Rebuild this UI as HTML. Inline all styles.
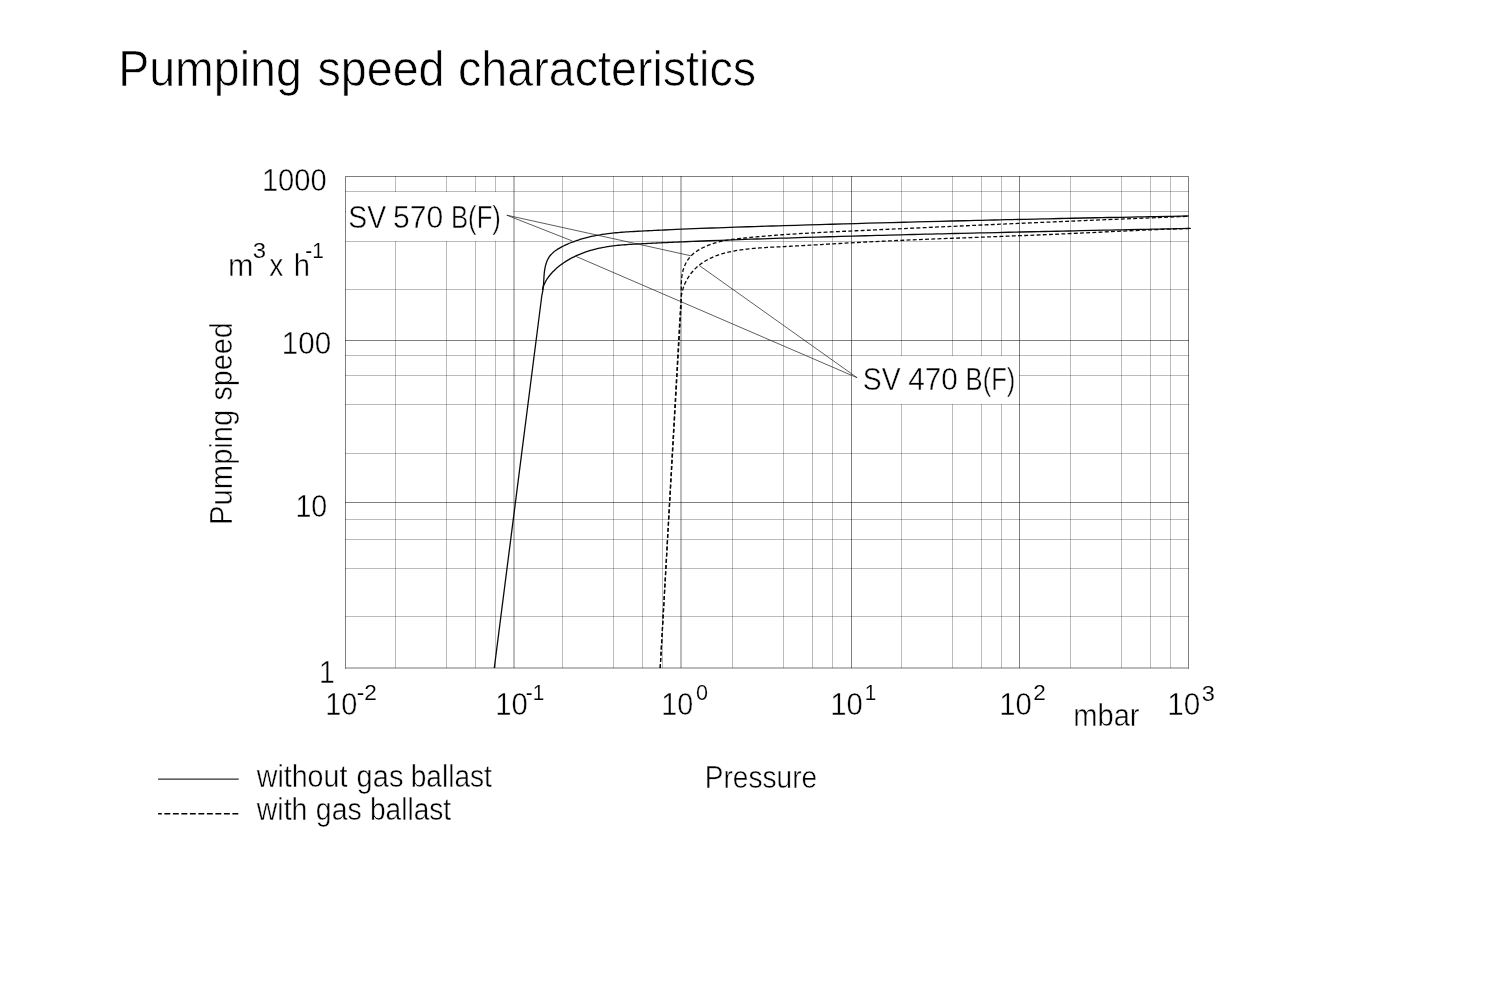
<!DOCTYPE html>
<html lang="en"><head><meta charset="utf-8"><title>Pumping speed characteristics</title>
<style>html,body{margin:0;padding:0;background:#fff}body{width:1500px;height:1000px;overflow:hidden}svg{display:block}text{font-family:"Liberation Sans",Arial,Helvetica,sans-serif;fill:#000;stroke:#fff;stroke-width:0.45px}text.t{stroke-width:0.7px}text.s{stroke-width:0.15px}</style></head><body>
<svg width="1500" height="1000" viewBox="0 0 1500 1000">
<rect width="1500" height="1000" fill="#fff"/>
<g shape-rendering="crispEdges">
<rect x="395" y="176" width="1" height="492" fill="rgba(0,0,0,0.265)"/>
<rect x="446" y="176" width="1" height="492" fill="rgba(0,0,0,0.265)"/>
<rect x="475" y="176" width="1" height="492" fill="rgba(0,0,0,0.265)"/>
<rect x="495" y="176" width="1" height="492" fill="rgba(0,0,0,0.265)"/>
<rect x="562" y="176" width="1" height="492" fill="rgba(0,0,0,0.265)"/>
<rect x="613" y="176" width="1" height="492" fill="rgba(0,0,0,0.265)"/>
<rect x="642" y="176" width="1" height="492" fill="rgba(0,0,0,0.265)"/>
<rect x="662" y="176" width="1" height="492" fill="rgba(0,0,0,0.265)"/>
<rect x="732" y="176" width="1" height="492" fill="rgba(0,0,0,0.265)"/>
<rect x="783" y="176" width="1" height="492" fill="rgba(0,0,0,0.265)"/>
<rect x="812" y="176" width="1" height="492" fill="rgba(0,0,0,0.265)"/>
<rect x="832" y="176" width="1" height="492" fill="rgba(0,0,0,0.265)"/>
<rect x="901" y="176" width="1" height="492" fill="rgba(0,0,0,0.265)"/>
<rect x="952" y="176" width="1" height="492" fill="rgba(0,0,0,0.265)"/>
<rect x="981" y="176" width="1" height="492" fill="rgba(0,0,0,0.265)"/>
<rect x="1001" y="176" width="1" height="492" fill="rgba(0,0,0,0.265)"/>
<rect x="1070" y="176" width="1" height="492" fill="rgba(0,0,0,0.265)"/>
<rect x="1121" y="176" width="1" height="492" fill="rgba(0,0,0,0.265)"/>
<rect x="1150" y="176" width="1" height="492" fill="rgba(0,0,0,0.265)"/>
<rect x="1170" y="176" width="1" height="492" fill="rgba(0,0,0,0.265)"/>
<rect x="513" y="176" width="2" height="492" fill="rgba(0,0,0,0.265)"/>
<rect x="680" y="176" width="2" height="492" fill="rgba(0,0,0,0.265)"/>
<rect x="851" y="176" width="1" height="492" fill="rgba(0,0,0,0.5)"/>
<rect x="1019" y="176" width="1" height="492" fill="rgba(0,0,0,0.5)"/>
<rect x="345" y="191" width="844" height="1" fill="rgba(0,0,0,0.265)"/>
<rect x="345" y="211" width="844" height="1" fill="rgba(0,0,0,0.265)"/>
<rect x="345" y="241" width="844" height="1" fill="rgba(0,0,0,0.265)"/>
<rect x="345" y="289" width="844" height="1" fill="rgba(0,0,0,0.265)"/>
<rect x="345" y="355" width="844" height="1" fill="rgba(0,0,0,0.265)"/>
<rect x="345" y="375" width="844" height="1" fill="rgba(0,0,0,0.265)"/>
<rect x="345" y="404" width="844" height="1" fill="rgba(0,0,0,0.265)"/>
<rect x="345" y="453" width="844" height="1" fill="rgba(0,0,0,0.265)"/>
<rect x="345" y="519" width="844" height="1" fill="rgba(0,0,0,0.265)"/>
<rect x="345" y="539" width="844" height="1" fill="rgba(0,0,0,0.265)"/>
<rect x="345" y="568" width="844" height="1" fill="rgba(0,0,0,0.265)"/>
<rect x="345" y="616" width="844" height="1" fill="rgba(0,0,0,0.265)"/>
<rect x="345" y="340" width="844" height="1" fill="rgba(0,0,0,0.5)"/>
<rect x="345" y="502" width="844" height="1" fill="rgba(0,0,0,0.5)"/>
<rect x="345" y="176" width="844" height="1" fill="rgba(0,0,0,0.5)"/>
<rect x="345" y="177" width="1" height="492" fill="rgba(0,0,0,0.5)"/>
<rect x="1188" y="177" width="1" height="492" fill="rgba(0,0,0,0.5)"/>
<rect x="346" y="667" width="842" height="2" fill="rgba(0,0,0,0.265)"/>
<rect x="346" y="192" width="167" height="49" fill="#fff"/>
<rect x="852" y="356" width="167" height="48" fill="#fff"/>
</g>
<g fill="none" stroke="#0a0a0a" stroke-width="1.3" stroke-linejoin="round">
<path d="M494.30,668.00 L541.90,295.00 C541.97,294.68 542.20,293.70 542.34,293.06 C542.48,292.42 542.61,291.79 542.73,291.14 C542.84,290.50 542.94,289.85 543.03,289.20 C543.12,288.55 543.20,287.89 543.27,287.23 C543.34,286.57 543.39,285.90 543.45,285.24 C543.50,284.57 543.55,283.90 543.59,283.23 C543.64,282.56 543.68,281.88 543.72,281.21 C543.76,280.53 543.79,279.85 543.83,279.18 C543.87,278.50 543.91,277.82 543.95,277.14 C544.00,276.46 544.04,275.78 544.10,275.11 C544.15,274.43 544.21,273.75 544.28,273.07 C544.35,272.40 544.42,271.72 544.51,271.05 C544.60,270.38 544.70,269.71 544.81,269.04 C544.93,268.37 545.05,267.70 545.19,267.05 C545.33,266.39 545.49,265.73 545.66,265.08 C545.84,264.44 546.02,263.80 546.23,263.17 C546.44,262.54 546.66,261.92 546.91,261.31 C547.16,260.71 547.42,260.11 547.71,259.53 C548.00,258.95 548.30,258.38 548.64,257.83 C548.97,257.28 549.32,256.74 549.70,256.23 C550.08,255.71 550.49,255.22 550.91,254.74 C551.34,254.26 551.79,253.80 552.25,253.35 C552.72,252.90 553.21,252.47 553.71,252.06 C554.22,251.64 554.74,251.24 555.27,250.85 C555.81,250.46 556.36,250.08 556.91,249.72 C557.47,249.35 558.04,249.00 558.62,248.65 C559.20,248.31 559.79,247.97 560.38,247.65 C560.97,247.32 561.58,247.00 562.18,246.69 C562.78,246.38 563.38,246.08 563.99,245.78 C564.60,245.48 565.21,245.19 565.82,244.90 C566.43,244.62 567.04,244.34 567.66,244.07 C568.28,243.80 568.90,243.53 569.52,243.27 C570.14,243.01 570.76,242.75 571.38,242.51 C572.01,242.26 572.64,242.02 573.26,241.78 C573.89,241.54 574.52,241.31 575.15,241.08 C575.78,240.86 576.42,240.64 577.05,240.42 C577.69,240.21 578.32,240.00 578.96,239.80 C579.59,239.59 580.23,239.39 580.87,239.20 C581.51,239.01 582.15,238.82 582.79,238.63 C583.43,238.45 584.08,238.27 584.72,238.10 C585.36,237.93 586.00,237.76 586.65,237.59 C587.29,237.43 587.94,237.27 588.59,237.11 C589.23,236.96 589.88,236.81 590.53,236.66 C591.17,236.51 591.82,236.37 592.47,236.23 C593.12,236.10 593.77,235.96 594.42,235.83 C595.07,235.70 595.72,235.58 596.38,235.45 C597.03,235.33 597.68,235.21 598.33,235.10 C598.99,234.98 599.64,234.87 600.30,234.77 C600.95,234.66 601.61,234.55 602.26,234.45 C602.92,234.35 603.58,234.26 604.23,234.16 C604.89,234.07 605.55,233.98 606.21,233.89 C606.86,233.80 607.52,233.71 608.18,233.63 C608.84,233.55 609.50,233.47 610.16,233.39 C610.82,233.32 611.48,233.24 612.14,233.17 C612.80,233.10 613.46,233.03 614.13,232.96 C614.79,232.89 615.45,232.83 616.11,232.77 C616.78,232.70 617.44,232.64 618.10,232.59 C618.76,232.53 619.43,232.47 620.09,232.42 C620.76,232.36 621.42,232.31 622.08,232.26 C622.75,232.21 623.41,232.16 624.08,232.11 C624.74,232.06 625.41,232.01 626.07,231.97 C626.74,231.92 627.41,231.88 628.07,231.84 C628.74,231.79 629.40,231.75 630.07,231.71 C630.73,231.67 631.40,231.63 632.07,231.59 C632.73,231.56 633.40,231.52 634.07,231.48 C634.73,231.44 635.40,231.41 636.07,231.37 C636.73,231.33 637.40,231.30 638.07,231.26 C638.73,231.23 639.40,231.19 640.07,231.16 C640.73,231.12 641.40,231.09 642.07,231.06 C642.73,231.02 643.40,230.99 644.07,230.95 C644.73,230.92 645.40,230.89 646.07,230.85 C646.73,230.82 647.40,230.79 648.07,230.75 C648.73,230.72 649.40,230.69 650.07,230.65 C650.73,230.62 651.40,230.59 652.07,230.55 C652.73,230.52 653.40,230.49 654.07,230.46 C654.73,230.43 655.40,230.39 656.07,230.36 C656.73,230.33 657.40,230.30 658.07,230.27 C658.73,230.23 659.40,230.20 660.07,230.17 C660.73,230.14 661.40,230.11 662.07,230.08 C662.73,230.05 661.73,230.09 664.07,229.99 C666.40,229.88 672.06,229.62 676.06,229.45 C680.06,229.28 684.06,229.11 688.06,228.94 C692.06,228.78 696.05,228.62 700.05,228.47 C704.05,228.31 708.05,228.16 712.04,228.01 C716.04,227.87 720.04,227.72 724.04,227.58 C728.03,227.44 732.03,227.30 736.03,227.17 C740.02,227.03 744.02,226.90 748.02,226.77 C752.02,226.64 756.01,226.51 760.01,226.39 C764.01,226.26 768.00,226.14 772.00,226.02 C776.00,225.89 779.99,225.77 783.99,225.65 C787.99,225.53 791.99,225.41 795.98,225.29 C799.98,225.17 803.98,225.05 807.98,224.93 C811.97,224.81 815.97,224.70 819.97,224.58 C823.97,224.47 827.96,224.35 831.96,224.23 C835.96,224.12 839.96,224.01 843.96,223.89 C847.95,223.78 851.95,223.67 855.95,223.56 C859.95,223.44 863.95,223.33 867.94,223.22 C871.94,223.11 875.94,223.00 879.94,222.89 C883.94,222.79 887.94,222.68 891.94,222.57 C895.93,222.46 899.93,222.36 903.93,222.25 C907.93,222.15 911.93,222.04 915.93,221.94 C919.93,221.83 923.93,221.73 927.92,221.63 C931.92,221.52 935.92,221.42 939.92,221.32 C943.92,221.22 947.92,221.12 951.92,221.02 C955.92,220.92 959.92,220.82 963.92,220.73 C967.92,220.63 971.91,220.53 975.91,220.43 C979.91,220.34 983.91,220.24 987.91,220.15 C991.91,220.05 995.91,219.96 999.91,219.86 C1003.91,219.77 1007.91,219.68 1011.91,219.59 C1015.91,219.49 1019.91,219.40 1023.91,219.31 C1027.90,219.22 1031.90,219.13 1035.90,219.04 C1039.90,218.95 1043.90,218.87 1047.90,218.78 C1051.90,218.69 1055.90,218.60 1059.90,218.52 C1063.90,218.43 1067.90,218.35 1071.90,218.26 C1075.90,218.18 1079.90,218.09 1083.89,218.01 C1087.89,217.93 1091.89,217.85 1095.89,217.76 C1099.89,217.68 1103.89,217.60 1107.89,217.52 C1111.89,217.44 1115.89,217.36 1119.89,217.28 C1123.89,217.21 1127.89,217.13 1131.88,217.05 C1135.88,216.97 1139.88,216.90 1143.88,216.82 C1147.88,216.75 1151.88,216.67 1155.88,216.60 C1159.88,216.52 1163.88,216.45 1167.87,216.38 C1171.87,216.30 1176.42,216.22 1179.87,216.16 C1183.32,216.10 1187.14,216.03 1188.60,216.01"/>
<path d="M542.60,290.00 C542.63,289.66 542.66,288.62 542.81,287.96 C542.96,287.30 543.25,286.68 543.49,286.05 C543.74,285.42 544.00,284.80 544.27,284.20 C544.55,283.59 544.84,282.99 545.14,282.40 C545.45,281.81 545.77,281.23 546.10,280.66 C546.43,280.09 546.78,279.53 547.14,278.98 C547.50,278.42 547.87,277.88 548.25,277.35 C548.63,276.81 549.03,276.28 549.44,275.77 C549.84,275.25 550.26,274.74 550.69,274.24 C551.11,273.73 551.55,273.24 552.00,272.75 C552.44,272.27 552.90,271.79 553.36,271.32 C553.83,270.85 554.30,270.39 554.78,269.93 C555.26,269.48 555.75,269.03 556.24,268.59 C556.73,268.15 557.23,267.71 557.74,267.29 C558.25,266.86 558.76,266.44 559.28,266.03 C559.80,265.62 560.32,265.21 560.85,264.81 C561.38,264.42 561.92,264.02 562.46,263.64 C563.00,263.25 563.55,262.88 564.10,262.51 C564.65,262.13 565.21,261.77 565.77,261.41 C566.34,261.05 566.90,260.70 567.47,260.36 C568.05,260.01 568.62,259.68 569.20,259.35 C569.78,259.01 570.37,258.69 570.96,258.37 C571.55,258.05 572.14,257.74 572.74,257.44 C573.33,257.13 573.94,256.83 574.54,256.54 C575.14,256.25 575.75,255.96 576.36,255.68 C576.97,255.40 577.59,255.13 578.21,254.86 C578.82,254.59 579.44,254.33 580.07,254.08 C580.69,253.82 581.32,253.57 581.94,253.33 C582.57,253.08 583.20,252.85 583.84,252.62 C584.47,252.39 585.11,252.16 585.74,251.94 C586.38,251.72 587.02,251.51 587.66,251.30 C588.30,251.10 588.94,250.89 589.59,250.70 C590.23,250.50 590.88,250.31 591.52,250.13 C592.17,249.94 592.82,249.77 593.47,249.59 C594.11,249.42 594.76,249.25 595.41,249.09 C596.06,248.93 596.71,248.77 597.36,248.62 C598.02,248.47 598.67,248.32 599.32,248.18 C599.97,248.04 600.63,247.91 601.28,247.78 C601.93,247.65 602.59,247.52 603.24,247.40 C603.90,247.28 604.55,247.16 605.21,247.05 C605.86,246.94 606.52,246.83 607.17,246.72 C607.83,246.62 608.49,246.52 609.15,246.42 C609.80,246.33 610.46,246.24 611.12,246.15 C611.78,246.06 612.44,245.97 613.10,245.89 C613.75,245.81 614.41,245.73 615.07,245.66 C615.73,245.58 616.39,245.51 617.05,245.44 C617.72,245.37 618.38,245.31 619.04,245.24 C619.70,245.18 620.36,245.12 621.02,245.06 C621.68,245.00 622.35,244.95 623.01,244.89 C623.67,244.84 624.33,244.79 625.00,244.74 C625.66,244.69 626.32,244.64 626.99,244.59 C627.65,244.55 628.31,244.50 628.98,244.46 C629.64,244.42 630.30,244.37 630.97,244.33 C631.63,244.29 632.30,244.26 632.96,244.22 C633.63,244.18 634.29,244.14 634.95,244.11 C635.62,244.07 636.28,244.03 636.95,244.00 C637.61,243.96 638.28,243.93 638.94,243.89 C639.61,243.86 640.27,243.83 640.94,243.79 C641.60,243.76 642.27,243.72 642.93,243.69 C643.60,243.66 644.26,243.62 644.93,243.59 C645.59,243.56 646.26,243.52 646.92,243.49 C647.59,243.46 648.25,243.42 648.92,243.39 C649.58,243.36 650.25,243.33 650.91,243.29 C651.58,243.26 652.24,243.23 652.91,243.20 C653.57,243.16 654.24,243.13 654.90,243.10 C655.57,243.07 656.23,243.03 656.90,243.00 C657.56,242.97 658.23,242.94 658.89,242.91 C659.56,242.88 660.23,242.84 660.89,242.81 C661.56,242.78 662.22,242.75 662.89,242.72 C663.55,242.69 664.22,242.66 664.88,242.63 C665.55,242.60 666.21,242.56 666.88,242.53 C667.55,242.50 668.21,242.47 668.88,242.44 C669.54,242.41 670.21,242.38 670.87,242.35 C671.54,242.32 672.20,242.29 672.87,242.26 C673.54,242.23 674.20,242.20 674.87,242.17 C675.53,242.14 676.20,242.11 676.86,242.08 C677.53,242.05 678.20,242.02 678.86,241.99 C679.53,241.97 680.19,241.94 680.86,241.91 C681.52,241.88 682.19,241.85 682.86,241.82 C683.52,241.79 682.52,241.83 684.85,241.73 C687.18,241.64 692.84,241.40 696.84,241.23 C700.84,241.07 704.83,240.91 708.83,240.75 C712.83,240.59 716.83,240.44 720.83,240.29 C724.82,240.14 728.82,239.99 732.82,239.84 C736.82,239.70 740.82,239.55 744.82,239.41 C748.82,239.27 752.82,239.14 756.82,239.00 C760.82,238.87 764.82,238.73 768.82,238.60 C772.82,238.47 776.82,238.34 780.82,238.21 C784.82,238.09 788.82,237.96 792.82,237.84 C796.82,237.71 800.82,237.59 804.82,237.47 C808.81,237.35 812.81,237.23 816.81,237.11 C820.81,236.99 824.81,236.87 828.81,236.76 C832.81,236.64 836.81,236.53 840.81,236.41 C844.81,236.30 848.81,236.19 852.80,236.08 C856.80,235.97 860.80,235.86 864.80,235.75 C868.80,235.64 872.80,235.54 876.80,235.43 C880.80,235.33 884.79,235.22 888.79,235.12 C892.79,235.01 896.79,234.91 900.79,234.81 C904.79,234.71 908.78,234.61 912.78,234.51 C916.78,234.41 920.78,234.31 924.78,234.21 C928.78,234.12 932.77,234.02 936.77,233.92 C940.77,233.83 944.77,233.73 948.77,233.64 C952.77,233.54 956.76,233.45 960.76,233.36 C964.76,233.26 968.76,233.17 972.76,233.08 C976.76,232.99 980.75,232.90 984.75,232.81 C988.75,232.72 992.75,232.63 996.75,232.54 C1000.74,232.45 1004.74,232.36 1008.74,232.27 C1012.74,232.18 1016.74,232.10 1020.74,232.01 C1024.73,231.92 1028.73,231.83 1032.73,231.75 C1036.73,231.66 1040.73,231.58 1044.73,231.49 C1048.73,231.40 1052.72,231.32 1056.72,231.23 C1060.72,231.15 1064.72,231.06 1068.72,230.98 C1072.72,230.89 1076.72,230.81 1080.72,230.72 C1084.71,230.64 1088.71,230.55 1092.71,230.47 C1096.71,230.38 1100.71,230.30 1104.71,230.22 C1108.71,230.13 1112.71,230.05 1116.71,229.96 C1120.71,229.88 1124.71,229.79 1128.71,229.71 C1132.71,229.62 1136.71,229.54 1140.70,229.46 C1144.70,229.37 1148.70,229.29 1152.70,229.20 C1156.70,229.11 1160.70,229.03 1164.70,228.94 C1168.70,228.86 1172.71,228.77 1176.71,228.68 C1180.71,228.60 1186.44,228.47 1188.71,228.42 C1190.97,228.37 1190.04,228.39 1190.31,228.39"/>
<path d="M660.20,668.00 L680.80,310.00 C680.84,309.68 680.95,308.71 681.01,308.07 C681.07,307.42 681.13,306.78 681.18,306.13 C681.22,305.48 681.26,304.83 681.29,304.17 C681.32,303.52 681.34,302.86 681.35,302.20 C681.37,301.53 681.38,300.87 681.38,300.20 C681.39,299.53 681.38,298.86 681.38,298.19 C681.38,297.51 681.37,296.84 681.36,296.16 C681.35,295.49 681.34,294.81 681.33,294.13 C681.32,293.45 681.30,292.77 681.29,292.09 C681.28,291.41 681.27,290.73 681.26,290.05 C681.25,289.37 681.25,288.68 681.25,288.00 C681.24,287.32 681.25,286.64 681.25,285.96 C681.26,285.28 681.27,284.60 681.29,283.92 C681.31,283.24 681.34,282.57 681.37,281.89 C681.41,281.22 681.45,280.54 681.50,279.87 C681.55,279.20 681.61,278.53 681.68,277.87 C681.76,277.20 681.84,276.54 681.93,275.88 C682.03,275.21 682.14,274.56 682.26,273.90 C682.38,273.25 682.52,272.60 682.67,271.95 C682.82,271.31 682.99,270.67 683.17,270.03 C683.35,269.39 683.55,268.76 683.76,268.14 C683.98,267.51 684.21,266.89 684.45,266.28 C684.70,265.67 684.96,265.06 685.24,264.47 C685.52,263.87 685.81,263.28 686.12,262.71 C686.43,262.13 686.76,261.56 687.11,261.01 C687.45,260.45 687.81,259.90 688.19,259.37 C688.56,258.84 688.96,258.31 689.37,257.81 C689.78,257.30 690.21,256.80 690.65,256.32 C691.10,255.84 691.56,255.37 692.04,254.92 C692.52,254.47 693.01,254.04 693.52,253.61 C694.03,253.19 694.55,252.78 695.09,252.38 C695.62,251.98 696.17,251.60 696.73,251.23 C697.29,250.85 697.86,250.49 698.43,250.14 C699.01,249.79 699.60,249.45 700.19,249.12 C700.78,248.79 701.38,248.48 701.99,248.17 C702.59,247.86 703.20,247.56 703.82,247.26 C704.43,246.97 705.05,246.69 705.67,246.41 C706.29,246.14 706.91,245.87 707.54,245.61 C708.16,245.36 708.79,245.11 709.42,244.87 C710.05,244.63 710.69,244.39 711.32,244.17 C711.96,243.95 712.59,243.73 713.23,243.53 C713.87,243.32 714.51,243.12 715.15,242.93 C715.79,242.74 716.44,242.56 717.08,242.39 C717.72,242.21 718.37,242.05 719.01,241.89 C719.66,241.73 720.31,241.58 720.96,241.43 C721.61,241.28 722.26,241.14 722.91,241.01 C723.56,240.87 724.21,240.75 724.86,240.62 C725.51,240.50 726.17,240.38 726.82,240.27 C727.48,240.16 728.13,240.05 728.79,239.94 C729.44,239.84 730.10,239.74 730.76,239.64 C731.42,239.55 732.07,239.46 732.73,239.37 C733.39,239.28 734.05,239.19 734.71,239.11 C735.37,239.02 736.03,238.94 736.69,238.87 C737.35,238.79 738.01,238.71 738.67,238.64 C739.33,238.56 740.00,238.49 740.66,238.42 C741.32,238.34 741.98,238.27 742.64,238.20 C743.30,238.13 743.97,238.06 744.63,237.99 C745.29,237.93 745.95,237.86 746.61,237.79 C747.28,237.72 747.94,237.66 748.60,237.59 C749.26,237.52 749.92,237.46 750.59,237.39 C751.25,237.33 751.91,237.27 752.57,237.20 C753.24,237.14 753.90,237.08 754.56,237.01 C755.23,236.95 755.89,236.89 756.55,236.83 C757.21,236.77 757.88,236.71 758.54,236.65 C759.20,236.59 759.87,236.53 760.53,236.47 C761.19,236.41 761.86,236.35 762.52,236.30 C763.18,236.24 763.85,236.18 764.51,236.13 C765.17,236.07 765.84,236.02 766.50,235.96 C767.17,235.91 767.83,235.85 768.49,235.80 C769.16,235.74 769.82,235.69 770.49,235.64 C771.15,235.58 771.81,235.53 772.48,235.48 C773.14,235.43 773.81,235.38 774.47,235.33 C775.13,235.28 775.80,235.23 776.46,235.18 C777.13,235.13 777.79,235.08 778.46,235.03 C779.12,234.98 779.79,234.93 780.45,234.88 C781.12,234.84 781.78,234.79 782.44,234.74 C783.11,234.69 783.77,234.65 784.44,234.60 C785.10,234.56 785.77,234.51 786.43,234.47 C787.10,234.42 787.76,234.38 788.43,234.33 C789.09,234.29 788.10,234.35 790.42,234.20 C792.75,234.06 798.41,233.69 802.40,233.46 C806.40,233.22 810.39,233.00 814.39,232.79 C818.39,232.57 822.39,232.37 826.38,232.17 C830.38,231.97 834.38,231.78 838.38,231.59 C842.38,231.40 846.38,231.22 850.38,231.03 C854.38,230.85 858.37,230.66 862.37,230.48 C866.37,230.29 870.37,230.11 874.37,229.92 C878.36,229.74 882.36,229.55 886.36,229.37 C890.35,229.18 894.35,229.00 898.35,228.82 C902.34,228.63 906.34,228.45 910.34,228.27 C914.33,228.08 918.33,227.90 922.33,227.72 C926.32,227.54 930.32,227.35 934.31,227.17 C938.31,226.99 942.30,226.81 946.30,226.63 C950.29,226.45 954.29,226.27 958.28,226.09 C962.28,225.91 966.27,225.73 970.27,225.55 C974.26,225.37 978.26,225.19 982.25,225.01 C986.25,224.84 990.24,224.66 994.24,224.48 C998.23,224.30 1002.23,224.13 1006.22,223.95 C1010.22,223.78 1014.21,223.60 1018.21,223.43 C1022.21,223.25 1026.20,223.08 1030.20,222.90 C1034.19,222.73 1038.19,222.56 1042.18,222.39 C1046.18,222.21 1050.17,222.04 1054.17,221.87 C1058.17,221.70 1062.16,221.53 1066.16,221.36 C1070.16,221.19 1074.15,221.03 1078.15,220.86 C1082.15,220.69 1086.14,220.52 1090.14,220.36 C1094.14,220.19 1098.13,220.03 1102.13,219.86 C1106.13,219.69 1110.13,219.53 1114.12,219.36 C1118.12,219.20 1122.12,219.03 1126.12,218.87 C1130.11,218.70 1134.11,218.54 1138.11,218.37 C1142.10,218.21 1146.10,218.04 1150.10,217.88 C1154.09,217.71 1158.09,217.55 1162.09,217.38 C1166.08,217.21 1170.08,217.05 1174.07,216.88 C1178.07,216.71 1183.67,216.48 1186.06,216.37 C1188.45,216.27 1188.01,216.29 1188.40,216.28" stroke-dasharray="3.9 2.3"/>
<path d="M660.20,668.00 L680.57,306.00 C680.62,305.68 680.81,304.76 680.85,304.09 C680.90,303.43 680.84,302.71 680.85,302.03 C680.86,301.34 680.89,300.66 680.93,299.98 C680.98,299.30 681.03,298.62 681.11,297.94 C681.18,297.27 681.26,296.59 681.36,295.92 C681.46,295.26 681.58,294.59 681.71,293.93 C681.83,293.27 681.98,292.61 682.13,291.95 C682.29,291.30 682.45,290.65 682.64,290.00 C682.82,289.36 683.01,288.72 683.22,288.08 C683.43,287.45 683.65,286.82 683.88,286.19 C684.12,285.57 684.36,284.95 684.62,284.34 C684.88,283.73 685.15,283.12 685.44,282.52 C685.72,281.92 686.01,281.32 686.32,280.73 C686.63,280.15 686.95,279.56 687.28,278.99 C687.61,278.42 687.95,277.85 688.30,277.29 C688.65,276.73 689.02,276.18 689.39,275.64 C689.77,275.09 690.15,274.56 690.55,274.03 C690.95,273.50 691.36,272.99 691.77,272.48 C692.19,271.97 692.62,271.47 693.06,270.97 C693.50,270.48 693.94,270.00 694.40,269.53 C694.86,269.05 695.33,268.59 695.81,268.14 C696.28,267.68 696.77,267.24 697.26,266.80 C697.76,266.37 698.26,265.94 698.78,265.53 C699.29,265.11 699.81,264.70 700.34,264.31 C700.86,263.91 701.40,263.52 701.94,263.14 C702.49,262.76 703.04,262.39 703.59,262.03 C704.15,261.67 704.71,261.32 705.28,260.98 C705.85,260.63 706.43,260.30 707.01,259.98 C707.59,259.65 708.18,259.34 708.77,259.03 C709.36,258.72 709.96,258.42 710.56,258.13 C711.16,257.84 711.77,257.56 712.38,257.29 C712.98,257.02 713.60,256.76 714.22,256.50 C714.83,256.25 715.46,256.00 716.08,255.76 C716.70,255.52 717.33,255.30 717.96,255.07 C718.59,254.85 719.23,254.64 719.86,254.43 C720.50,254.23 721.14,254.03 721.78,253.83 C722.42,253.64 723.06,253.46 723.71,253.28 C724.35,253.10 725.00,252.93 725.65,252.76 C726.30,252.60 726.95,252.44 727.61,252.29 C728.26,252.13 728.92,251.99 729.57,251.85 C730.23,251.70 730.89,251.57 731.55,251.44 C732.21,251.30 732.87,251.18 733.53,251.06 C734.19,250.93 734.85,250.82 735.52,250.70 C736.18,250.59 736.84,250.48 737.51,250.38 C738.17,250.27 738.84,250.17 739.50,250.08 C740.17,249.98 740.83,249.89 741.50,249.79 C742.16,249.70 742.83,249.62 743.49,249.53 C744.16,249.45 744.82,249.36 745.49,249.28 C746.15,249.20 746.82,249.13 747.48,249.05 C748.14,248.98 748.81,248.91 749.47,248.84 C750.14,248.77 750.80,248.70 751.47,248.64 C752.13,248.57 752.79,248.51 753.46,248.45 C754.12,248.39 754.79,248.33 755.45,248.27 C756.11,248.22 756.78,248.16 757.44,248.11 C758.10,248.06 758.77,248.00 759.43,247.96 C760.10,247.91 760.76,247.86 761.42,247.81 C762.09,247.76 762.75,247.72 763.41,247.68 C764.08,247.63 764.74,247.59 765.40,247.55 C766.07,247.51 766.73,247.47 767.39,247.43 C768.06,247.39 768.72,247.35 769.38,247.31 C770.05,247.28 770.71,247.24 771.37,247.20 C772.04,247.17 772.70,247.13 773.37,247.10 C774.03,247.06 774.69,247.03 775.36,247.00 C776.02,246.96 776.68,246.93 777.35,246.90 C778.01,246.87 778.67,246.83 779.34,246.80 C780.00,246.77 780.66,246.74 781.33,246.70 C781.99,246.67 782.66,246.64 783.32,246.60 C783.98,246.57 784.65,246.54 785.31,246.51 C785.98,246.47 786.64,246.44 787.30,246.40 C787.97,246.37 788.63,246.34 789.30,246.30 C789.96,246.27 790.63,246.23 791.29,246.20 C791.95,246.16 792.62,246.13 793.28,246.09 C793.95,246.06 794.61,246.02 795.28,245.99 C795.94,245.95 796.61,245.92 797.27,245.88 C797.94,245.84 798.60,245.81 799.27,245.77 C799.93,245.74 800.60,245.70 801.26,245.66 C801.93,245.63 802.59,245.59 803.26,245.55 C803.92,245.51 804.59,245.48 805.25,245.44 C805.92,245.40 806.58,245.37 807.25,245.33 C807.91,245.29 806.91,245.35 809.24,245.22 C811.57,245.08 817.23,244.76 821.22,244.53 C825.22,244.30 829.21,244.06 833.21,243.83 C837.21,243.61 841.20,243.38 845.20,243.15 C849.20,242.93 853.19,242.71 857.19,242.50 C861.19,242.28 865.19,242.08 869.18,241.88 C873.18,241.68 877.18,241.48 881.17,241.29 C885.17,241.10 889.17,240.91 893.17,240.73 C897.16,240.55 901.16,240.37 905.16,240.20 C909.15,240.02 913.15,239.85 917.15,239.68 C921.15,239.52 925.14,239.35 929.14,239.19 C933.14,239.03 937.13,238.87 941.13,238.71 C945.13,238.55 949.12,238.40 953.12,238.24 C957.12,238.09 961.11,237.94 965.11,237.78 C969.11,237.63 973.10,237.48 977.10,237.33 C981.10,237.18 985.09,237.03 989.09,236.88 C993.09,236.72 997.08,236.57 1001.08,236.42 C1005.08,236.27 1009.07,236.12 1013.07,235.96 C1017.07,235.80 1021.06,235.65 1025.06,235.49 C1029.05,235.33 1033.05,235.17 1037.05,235.01 C1041.04,234.84 1045.04,234.68 1049.03,234.51 C1053.03,234.34 1057.03,234.17 1061.02,233.99 C1065.02,233.81 1069.01,233.63 1073.01,233.45 C1077.00,233.27 1081.00,233.08 1085.00,232.89 C1088.99,232.70 1092.99,232.51 1096.98,232.31 C1100.98,232.12 1104.97,231.93 1108.97,231.73 C1112.97,231.54 1116.96,231.35 1120.96,231.16 C1124.95,230.97 1128.95,230.79 1132.95,230.61 C1136.94,230.42 1140.94,230.25 1144.93,230.08 C1148.93,229.90 1152.93,229.74 1156.92,229.58 C1160.92,229.42 1164.92,229.27 1168.91,229.13 C1172.91,228.99 1177.39,228.85 1180.91,228.74 C1184.42,228.63 1188.48,228.53 1190.00,228.48" stroke-dasharray="3.9 2.3"/>
</g>
<g fill="none" stroke="#2a2a2a" stroke-width="0.75">
<path d="M506.8,215.2 L572.4,241.0"/>
<path d="M506.8,215.2 L691,255.8"/>
<path d="M575.8,256.3 L857.1,377.7"/>
<path d="M699.4,265.6 L857.1,377.7"/>
</g>
<path d="M158.1,779.1 H238.7" stroke="#2e2e2e" stroke-width="1.4" fill="none"/>
<path d="M158.1,813.7 H238.7" stroke="#000" stroke-width="1.4" fill="none" stroke-dasharray="5.9 2.6" stroke-dashoffset="2.2"/>
<text transform="translate(118.16,86.20) scale(0.9238,1)" font-size="50.4" class="t">Pumping</text>
<text transform="translate(317.47,86.20) scale(0.9259,1)" font-size="50.4" class="t">speed</text>
<text transform="translate(458.04,86.20) scale(0.9256,1)" font-size="50.4" class="t">characteristics</text>
<text transform="translate(261.88,190.50) scale(0.9464,1)" font-size="30.8">1000</text>
<text transform="translate(281.85,354.30) scale(0.9611,1)" font-size="30.8">100</text>
<text transform="translate(295.41,517.00) scale(0.9282,1)" font-size="30.8">10</text>
<text transform="translate(319.11,683.40) scale(0.9200,1)" font-size="30.8">1</text>
<text transform="translate(228.09,276.00) scale(0.9938,1)" font-size="30.8">m</text>
<text transform="translate(252.65,258.20) scale(1.0600,1)" font-size="22.6" class="s">3</text>
<text transform="translate(269.37,276.00) scale(0.9200,1)" font-size="30.8">x</text>
<text transform="translate(293.67,276.00) scale(0.9499,1)" font-size="30.8">h</text>
<text transform="translate(305.35,258.20) scale(0.9200,1)" font-size="22.6" class="s">-1</text>
<text transform="translate(325.19,714.50) scale(0.9377,1)" font-size="30.8">10</text>
<text transform="translate(356.79,700.20) scale(1.0015,1)" font-size="22.6" class="s">-2</text>
<text transform="translate(495.17,714.50) scale(0.9504,1)" font-size="30.8">10</text>
<text transform="translate(525.85,700.20) scale(0.9200,1)" font-size="22.6" class="s">-1</text>
<text transform="translate(661.21,714.50) scale(0.9314,1)" font-size="30.8">10</text>
<text transform="translate(695.93,700.20) scale(0.9558,1)" font-size="22.6" class="s">0</text>
<text transform="translate(830.17,714.50) scale(0.9504,1)" font-size="30.8">10</text>
<text transform="translate(864.79,700.20) scale(0.9200,1)" font-size="22.6" class="s">1</text>
<text transform="translate(999.17,714.50) scale(0.9504,1)" font-size="30.8">10</text>
<text transform="translate(1033.34,700.20) scale(1.0006,1)" font-size="22.6" class="s">2</text>
<text transform="translate(1167.15,714.50) scale(0.9630,1)" font-size="30.8">10</text>
<text transform="translate(1201.86,701.20) scale(1.0414,1)" font-size="22.6" class="s">3</text>
<text transform="translate(1073.18,725.60) scale(0.9457,1)" font-size="30.8">mbar</text>
<text transform="translate(704.81,787.50) scale(0.9114,1)" font-size="30.8">Pressure</text>
<text transform="translate(256.75,787.20) scale(0.9290,1)" font-size="30.8">without</text>
<text transform="translate(356.59,787.20) scale(0.9427,1)" font-size="30.8">gas</text>
<text transform="translate(410.75,787.20) scale(0.9116,1)" font-size="30.8">ballast</text>
<text transform="translate(256.75,819.70) scale(0.9248,1)" font-size="30.8">with</text>
<text transform="translate(315.81,819.70) scale(0.9239,1)" font-size="30.8">gas</text>
<text transform="translate(369.94,819.70) scale(0.9127,1)" font-size="30.8">ballast</text>
<text transform="translate(348.24,228.30) scale(0.9200,1)" font-size="30.8">SV</text>
<text transform="translate(393.06,228.30) scale(0.9746,1)" font-size="30.8">570</text>
<text transform="translate(450.99,228.30) scale(0.8341,1)" font-size="30.8">B(F)</text>
<text transform="translate(862.79,390.40) scale(0.9200,1)" font-size="30.8">SV</text>
<text transform="translate(908.14,390.40) scale(0.9653,1)" font-size="30.8">470</text>
<text transform="translate(965.60,390.40) scale(0.8305,1)" font-size="30.8">B(F)</text>
<text transform="translate(231.50,524.88) rotate(-90) scale(0.9478,1)" font-size="30.8">Pumping</text>
<text transform="translate(231.50,400.45) rotate(-90) scale(0.9302,1)" font-size="30.8">speed</text>
</svg></body></html>
